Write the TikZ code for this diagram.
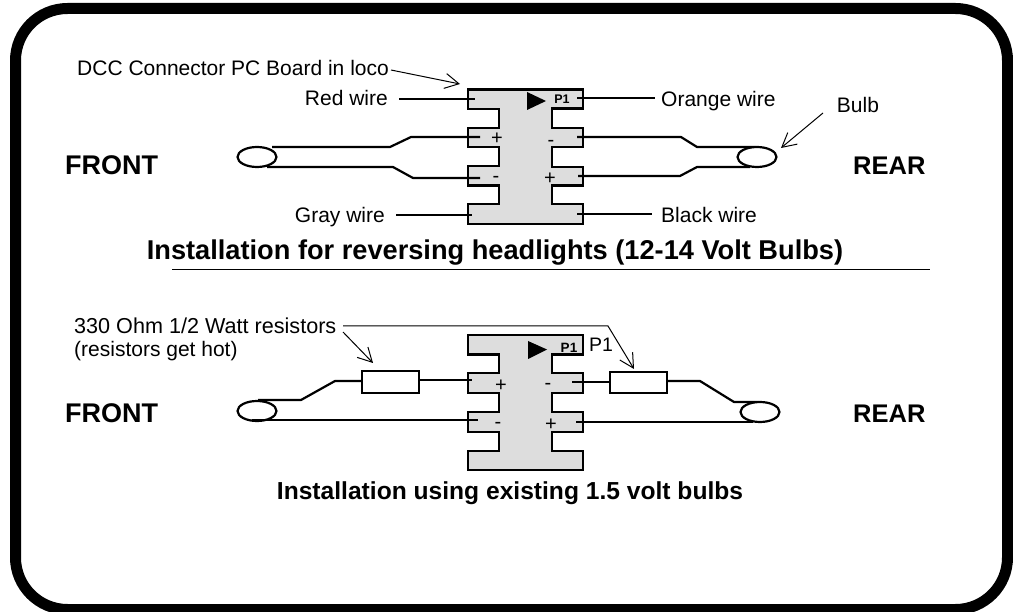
\documentclass[tikz,border=0pt]{standalone}
\usepackage{fontspec}
\setmainfont{Liberation Sans}
\usetikzlibrary{arrows.meta,shapes.geometric}
\tikzset{
  wire/.style={line width=2.2pt,line join=miter},
  board/.style={line width=2.2pt,fill=boardgray,line join=miter},
  bulb/.style={draw,ellipse,line width=2.2pt,minimum width=39pt,minimum height=20pt,inner sep=0pt,fill=white},
  res/.style={draw,rectangle,line width=2.2pt,minimum width=57pt,minimum height=21.5pt,inner sep=0pt,fill=white},
  callout/.style={line width=1pt,-{Straight Barb[length=14pt,width=15pt,line width=1pt]}},
  lab/.style={inner sep=0pt,font=\fontsize{21}{24}\selectfont},
  front/.style={inner sep=0pt,anchor=base west,font=\fontsize{27}{30}\selectfont\bfseries},
  rear/.style={inner sep=0pt,anchor=base west,font=\fontsize{25.5}{30}\selectfont\bfseries},
  pin/.style={inner sep=0pt,anchor=base,font=\fontsize{20}{20}\selectfont},
  tri/.style={fill=black,draw=none}
}
\definecolor{boardgray}{gray}{0.865}
\begin{document}
\begin{tikzpicture}[x=1pt,y=-1pt]
\useasboundingbox (0,0) rectangle (1013,612);
\begin{scope}
\clip (0,0) rectangle (1013,612);
\draw[line width=11pt,rounded corners=52pt] (15.5,8.5) rectangle (1007.5,609.5);
\end{scope}
% board 1
\draw[board] (468,89.5) -- (583,89.5) -- (583,108.5) -- (552,108.5) -- (552,128) -- (583,128) -- (583,147) -- (552,147) -- (552,167) -- (583,167) -- (583,185.5) -- (552,185.5) -- (552,204) -- (583,204) -- (583,224) -- (468,224) -- (468,204) -- (499,204) -- (499,185.5) -- (468,185.5) -- (468,166) -- (499,166) -- (499,147) -- (468,147) -- (468,128) -- (499,128) -- (499,109) -- (468,109) -- cycle;
\fill[tri] (527,92) -- (546,101) -- (527,110) -- cycle;
\node[inner sep=0pt,font=\fontsize{12.5}{13}\selectfont\bfseries] (pa) at (562,99.5) {P1};
\node[pin] (ap) at (497,145) {+};
\node[pin] (am) at (496,183) {-};
\node[pin] (bm) at (551,147) {-};
\node[pin] (bp) at (550,185) {+};
\coordinate (redL) at (399,99); \coordinate (redR) at (475,99);
\coordinate (grayL) at (396,215); \coordinate (grayR) at (472,215);
\coordinate (orL) at (577,98); \coordinate (orR) at (655,98);
\coordinate (blL) at (577,214); \coordinate (blR) at (652,214);
\draw[wire] (redL) -- (redR);
\draw[wire] (grayL) -- (grayR);
\draw[wire] (orL) -- (orR);
\draw[wire] (blL) -- (blR);
\coordinate (fa1) at (272,147); \coordinate (fa2) at (480,137);
\coordinate (fb1) at (267,167); \coordinate (fb2) at (480,178);
\coordinate (ra1) at (577,137); \coordinate (ra2) at (755,147);
\coordinate (rb1) at (578,176); \coordinate (rb2) at (750,167);
\draw[wire] (fa1) -- (390,147) -- (411,137) -- (fa2);
\draw[wire] (fb1) -- (393,167) -- (413,178) -- (fb2);
\draw[wire] (ra1) -- (681,137) -- (697,147) -- (ra2);
\draw[wire] (rb1) -- (680,176) -- (697,167) -- (rb2);
\node[bulb] (bf) at (257,157) {};
\node[bulb] (br) at (757,157) {};
% labels 1
\node[lab,anchor=base west] (dcc) at (77,76) {DCC Connector PC Board in loco};
\coordinate (dccA) at (391,70); \coordinate (dccB) at (460,84);
\draw[callout] (dccA) -- (dccB);
\node[lab,anchor=base east] (red) at (388,105.5) {Red wire};
\node[lab,anchor=base east] (gray) at (385,223) {Gray wire};
\node[lab,anchor=base west] (or) at (661,106.5) {Orange wire};
\node[lab,anchor=base west] (bl) at (661,223) {Black wire};
\node[lab,anchor=base] (bu) at (858,113) {Bulb};
\coordinate (buA) at (823,113); \coordinate (buB) at (781,148);
\draw[callout] (buA) -- (buB);
\node[front] (f1) at (65,175) {FRONT};
\node[rear] (r1) at (853,175) {REAR};
\node[inner sep=0pt,font=\fontsize{27.2}{30}\selectfont\bfseries] (t1) at (495,252.5) {Installation for reversing headlights (12-14 Volt Bulbs)};
\coordinate (dl) at (172,270); \coordinate (dr) at (930,270);
\draw[line width=1pt] (dl) -- (dr);
% board 2
\draw[board] (468,335) -- (583,335) -- (583,354.5) -- (552,354.5) -- (552,373) -- (583,373) -- (583,393) -- (552,393) -- (552,412) -- (583,412) -- (583,432) -- (552,432) -- (552,451) -- (583,451) -- (583,470) -- (468,470) -- (468,451) -- (499,451) -- (499,432) -- (468,432) -- (468,412) -- (499,412) -- (499,393) -- (468,393) -- (468,373) -- (499,373) -- (499,354.5) -- (468,354.5) -- cycle;
\fill[tri] (528,341) -- (547,349.5) -- (528,359) -- cycle;
\node[inner sep=0pt,font=\fontsize{13.5}{14}\selectfont\bfseries] (pb) at (569,348) {P1};
\node[lab,font=\fontsize{19.5}{20}\selectfont,anchor=base] (pc) at (601,352) {P1};
\node[pin] (cp) at (501,392) {+};
\node[pin] (cm) at (498,429) {-};
\node[pin] (dm) at (548,390) {-};
\node[pin] (dp) at (551,431) {+};
\node[res] (r1l) at (390.5,382) {};
\node[res] (r1r) at (638.5,382.5) {};
\coordinate (e1) at (419,380); \coordinate (w1) at (472,380);
\coordinate (e2) at (362,381); \coordinate (w2) at (258,400);
\coordinate (w3) at (572,382); \coordinate (e3) at (610,382);
\coordinate (e4) at (667,381); \coordinate (w4) at (758,402);
\coordinate (w5) at (252,420); \coordinate (w6) at (478,420);
\coordinate (w7) at (576,422); \coordinate (w8) at (753,422);
\draw[wire] (e1) -- (w1);
\draw[wire] (e2) -- (335,381) -- (301,400) -- (w2);
\draw[wire] (w3) -- (e3);
\draw[wire] (e4) -- (700,381) -- (734,402) -- (w4);
\node[bulb] (bf2) at (257,411) {};
\node[bulb] (br2) at (760,412) {};
\draw[wire] (w5) -- (w6);
\draw[wire] (w7) -- (w8);
% labels 2
\node[lab,font=\fontsize{21.6}{24}\selectfont,anchor=base west] (rl) at (74,333.5) {330 Ohm 1/2 Watt resistors};
\node[lab,anchor=base west] (rl2) at (74,357) {(resistors get hot)};
\coordinate (c1) at (343,326); \coordinate (c2) at (634,369);
\coordinate (c3) at (343,332); \coordinate (c4) at (373,363);
\draw[callout] (c1) -- (608,326) -- (c2);
\draw[callout] (c3) -- (c4);
\node[front] (f2) at (65,423) {FRONT};
\node[rear] (r2) at (853,423) {REAR};
\node[inner sep=0pt,font=\fontsize{24.6}{28}\selectfont\bfseries] (t2) at (510,493) {Installation using existing 1.5 volt bulbs};
\end{tikzpicture}
\end{document}
